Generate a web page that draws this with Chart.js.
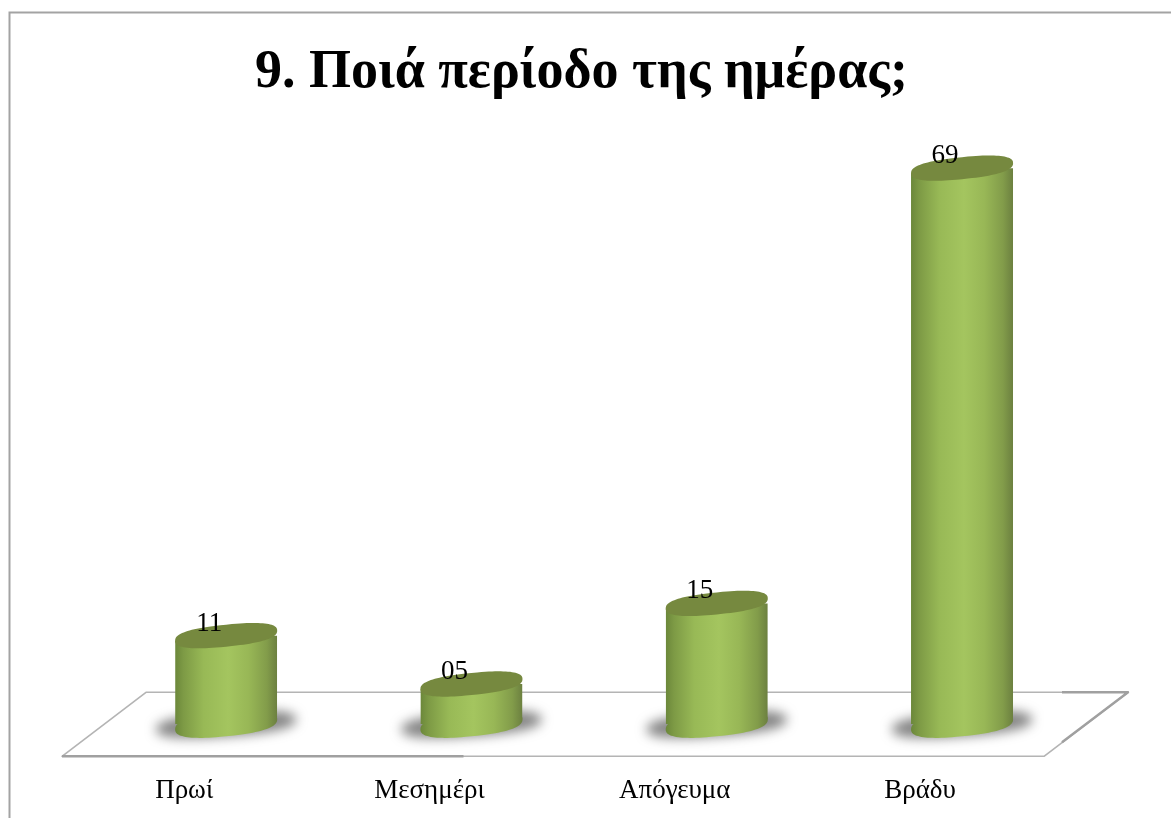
<!DOCTYPE html>
<html lang="el">
<head>
<meta charset="utf-8">
<title>9. Ποιά περίοδο της ημέρας;</title>
<style>html,body{margin:0;padding:0;background:#fff}canvas{display:block}</style>
<script src="https://cdn.jsdelivr.net/npm/chart.js@4/dist/chart.umd.min.js"></script>
</head>
<body>
<canvas id="c" width="1171" height="818"></canvas>
<script>
const chartTitle = "9. Ποιά περίοδο της ημέρας;";
const categories = ["Πρωί", "Μεσημέρι", "Απόγευμα", "Βράδυ"];
const values = [11, 5, 15, 69];
const valueLabels = ["11", "05", "15", "69"];

const SERIF = '"Liberation Serif", serif';
const CAP_RY = 11;
const LEAN = 5;

function bodyGradient(ctx, x, w) {
  const g = ctx.createLinearGradient(x - w / 2, 0, x + w / 2, 0);
  g.addColorStop(0, '#6b873a');
  g.addColorStop(0.08, '#7d9a45');
  g.addColorStop(0.28, '#98b956');
  g.addColorStop(0.52, '#a4c55f');
  g.addColorStop(0.72, '#98b756');
  g.addColorStop(0.9, '#829c4a');
  g.addColorStop(1, '#6c8040');
  return g;
}
// A slightly squared, sheared ellipse: the perspective disc of the cylinder.
function disc(ctx, x, y, rx, ry) {
  const n = 2.5;
  ctx.beginPath();
  for (let i = 0; i < 96; i++) {
    const t = i / 96 * Math.PI * 2;
    const c = Math.cos(t), s = Math.sin(t);
    const u = Math.sign(c) * Math.pow(Math.abs(c), 2 / n);
    const v = Math.sign(s) * Math.pow(Math.abs(s), 2 / n);
    const px = x + rx * u;
    const py = y + ry * v - LEAN * u;
    if (i === 0) ctx.moveTo(px, py); else ctx.lineTo(px, py);
  }
  ctx.closePath();
}

const cylinderPlugin = {
  id: 'cylinder',
  beforeDraw(chart) {
    const { ctx, chartArea: a, scales: { y } } = chart;
    const base = y.getPixelForValue(0);
    ctx.save();
    ctx.fillStyle = '#fff';
    ctx.fillRect(0, 0, chart.width, chart.height);
    // frame
    ctx.strokeStyle = '#a3a3a3';
    ctx.lineWidth = 2;
    ctx.beginPath();
    ctx.moveTo(9.5, chart.height);
    ctx.lineTo(9.5, 12.5);
    ctx.lineTo(chart.width, 12.5);
    ctx.stroke();
    // floor
    const yBack = base - 32, yFront = base + 32;
    const xFL = a.left - 41.5, xFR = a.right - 40.7, xBL = a.left + 42.5, xBR = a.right + 43.3;
    ctx.lineJoin = 'round';
    ctx.strokeStyle = '#b4b4b4';
    ctx.lineWidth = 1.6;
    ctx.beginPath();
    ctx.moveTo(xFL, yFront);
    ctx.lineTo(xBL, yBack);
    ctx.lineTo(xBR, yBack);
    ctx.lineTo(xFR, yFront);
    ctx.closePath();
    ctx.stroke();
    ctx.strokeStyle = '#a0a0a0';
    ctx.lineWidth = 2.4;
    ctx.beginPath();
    ctx.moveTo(xFL, yFront);
    ctx.lineTo(a.left + 360, yFront);
    ctx.moveTo(xBR - 66, yBack);
    ctx.lineTo(xBR, yBack);
    ctx.lineTo(xFR + 18, yFront - 14);
    ctx.stroke();
    ctx.restore();
  },
  beforeDatasetsDraw(chart) {
    const { ctx } = chart;
    const meta = chart.getDatasetMeta(0);
    meta.data.forEach(el => {
      const w = el.width, rx = w / 2, grad = bodyGradient(ctx, el.x, w);
      el.options = Object.assign({}, el.options, { backgroundColor: grad, borderWidth: 0 });
      // floor shadow
      ctx.save();
      ctx.filter = 'blur(6px)';
      ctx.fillStyle = 'rgba(85,85,85,0.72)';
      disc(ctx, el.x, el.base, rx + 19, 12);
      ctx.fill();
      ctx.restore();
      // rounded foot of the cylinder
      ctx.save();
      ctx.fillStyle = grad;
      disc(ctx, el.x, el.base, rx, CAP_RY + 1);
      ctx.fill();
      ctx.restore();
    });
  },
  beforeDatasetDraw(chart) {
    const { ctx } = chart;
    const meta = chart.getDatasetMeta(0);
    ctx.save();
    ctx.beginPath();
    meta.data.forEach(el => {
      const rx = el.width / 2;
      ctx.moveTo(el.x - rx, el.y + LEAN);
      ctx.lineTo(el.x + rx, el.y - LEAN);
      ctx.lineTo(el.x + rx, el.base - LEAN);
      ctx.lineTo(el.x - rx, el.base + LEAN);
      ctx.closePath();
    });
    ctx.clip();
  },
  afterDatasetDraw(chart) {
    chart.ctx.restore();
  },
  afterDatasetsDraw(chart) {
    const { ctx } = chart;
    const meta = chart.getDatasetMeta(0);
    meta.data.forEach((el, i) => {
      const rx = el.width / 2;
      ctx.save();
      ctx.fillStyle = '#76893f';
      disc(ctx, el.x, el.y, rx, CAP_RY);
      ctx.fill();
      ctx.fillStyle = '#000';
      ctx.font = '27px ' + SERIF;
      ctx.textAlign = 'center';
      ctx.textBaseline = 'middle';
      ctx.fillText(valueLabels[i], el.x - 17, el.y - 12);
      ctx.restore();
    });
  },
  afterLayout(chart) {
    // title sits slightly left of the plot centre in the reference
    const t = chart.titleBlock;
    if (t) { t.left -= 12.6; t.right -= 12.6; }
  }
};

new Chart(document.getElementById('c'), {
  type: 'bar',
  data: {
    labels: categories,
    datasets: [{ data: values, backgroundColor: '#a4c55f', borderWidth: 0, categoryPercentage: 0.416, barPercentage: 1 }]
  },
  options: {
    responsive: false,
    animation: false,
    layout: { padding: { left: 103.5, right: 86.3, top: 0, bottom: 0 } },
    plugins: {
      legend: { display: false },
      tooltip: { enabled: false },
      title: {
        display: true,
        text: chartTitle,
        color: '#000',
        font: { family: SERIF, size: 54, weight: 'bold' },
        padding: { top: 40.6, bottom: 14.4 }
      }
    },
    scales: {
      x: {
        grid: { display: false, drawTicks: false },
        border: { display: false },
        afterFit(scale) { scale.height = 93.7; },
        ticks: {
          color: '#000',
          font: { family: SERIF, size: 27 },
          padding: 50.5,
          labelOffset: -42,
          maxRotation: 0
        }
      },
      y: { display: false, min: 0, max: 75 }
    }
  },
  plugins: [cylinderPlugin]
});
</script>
</body>
</html>
